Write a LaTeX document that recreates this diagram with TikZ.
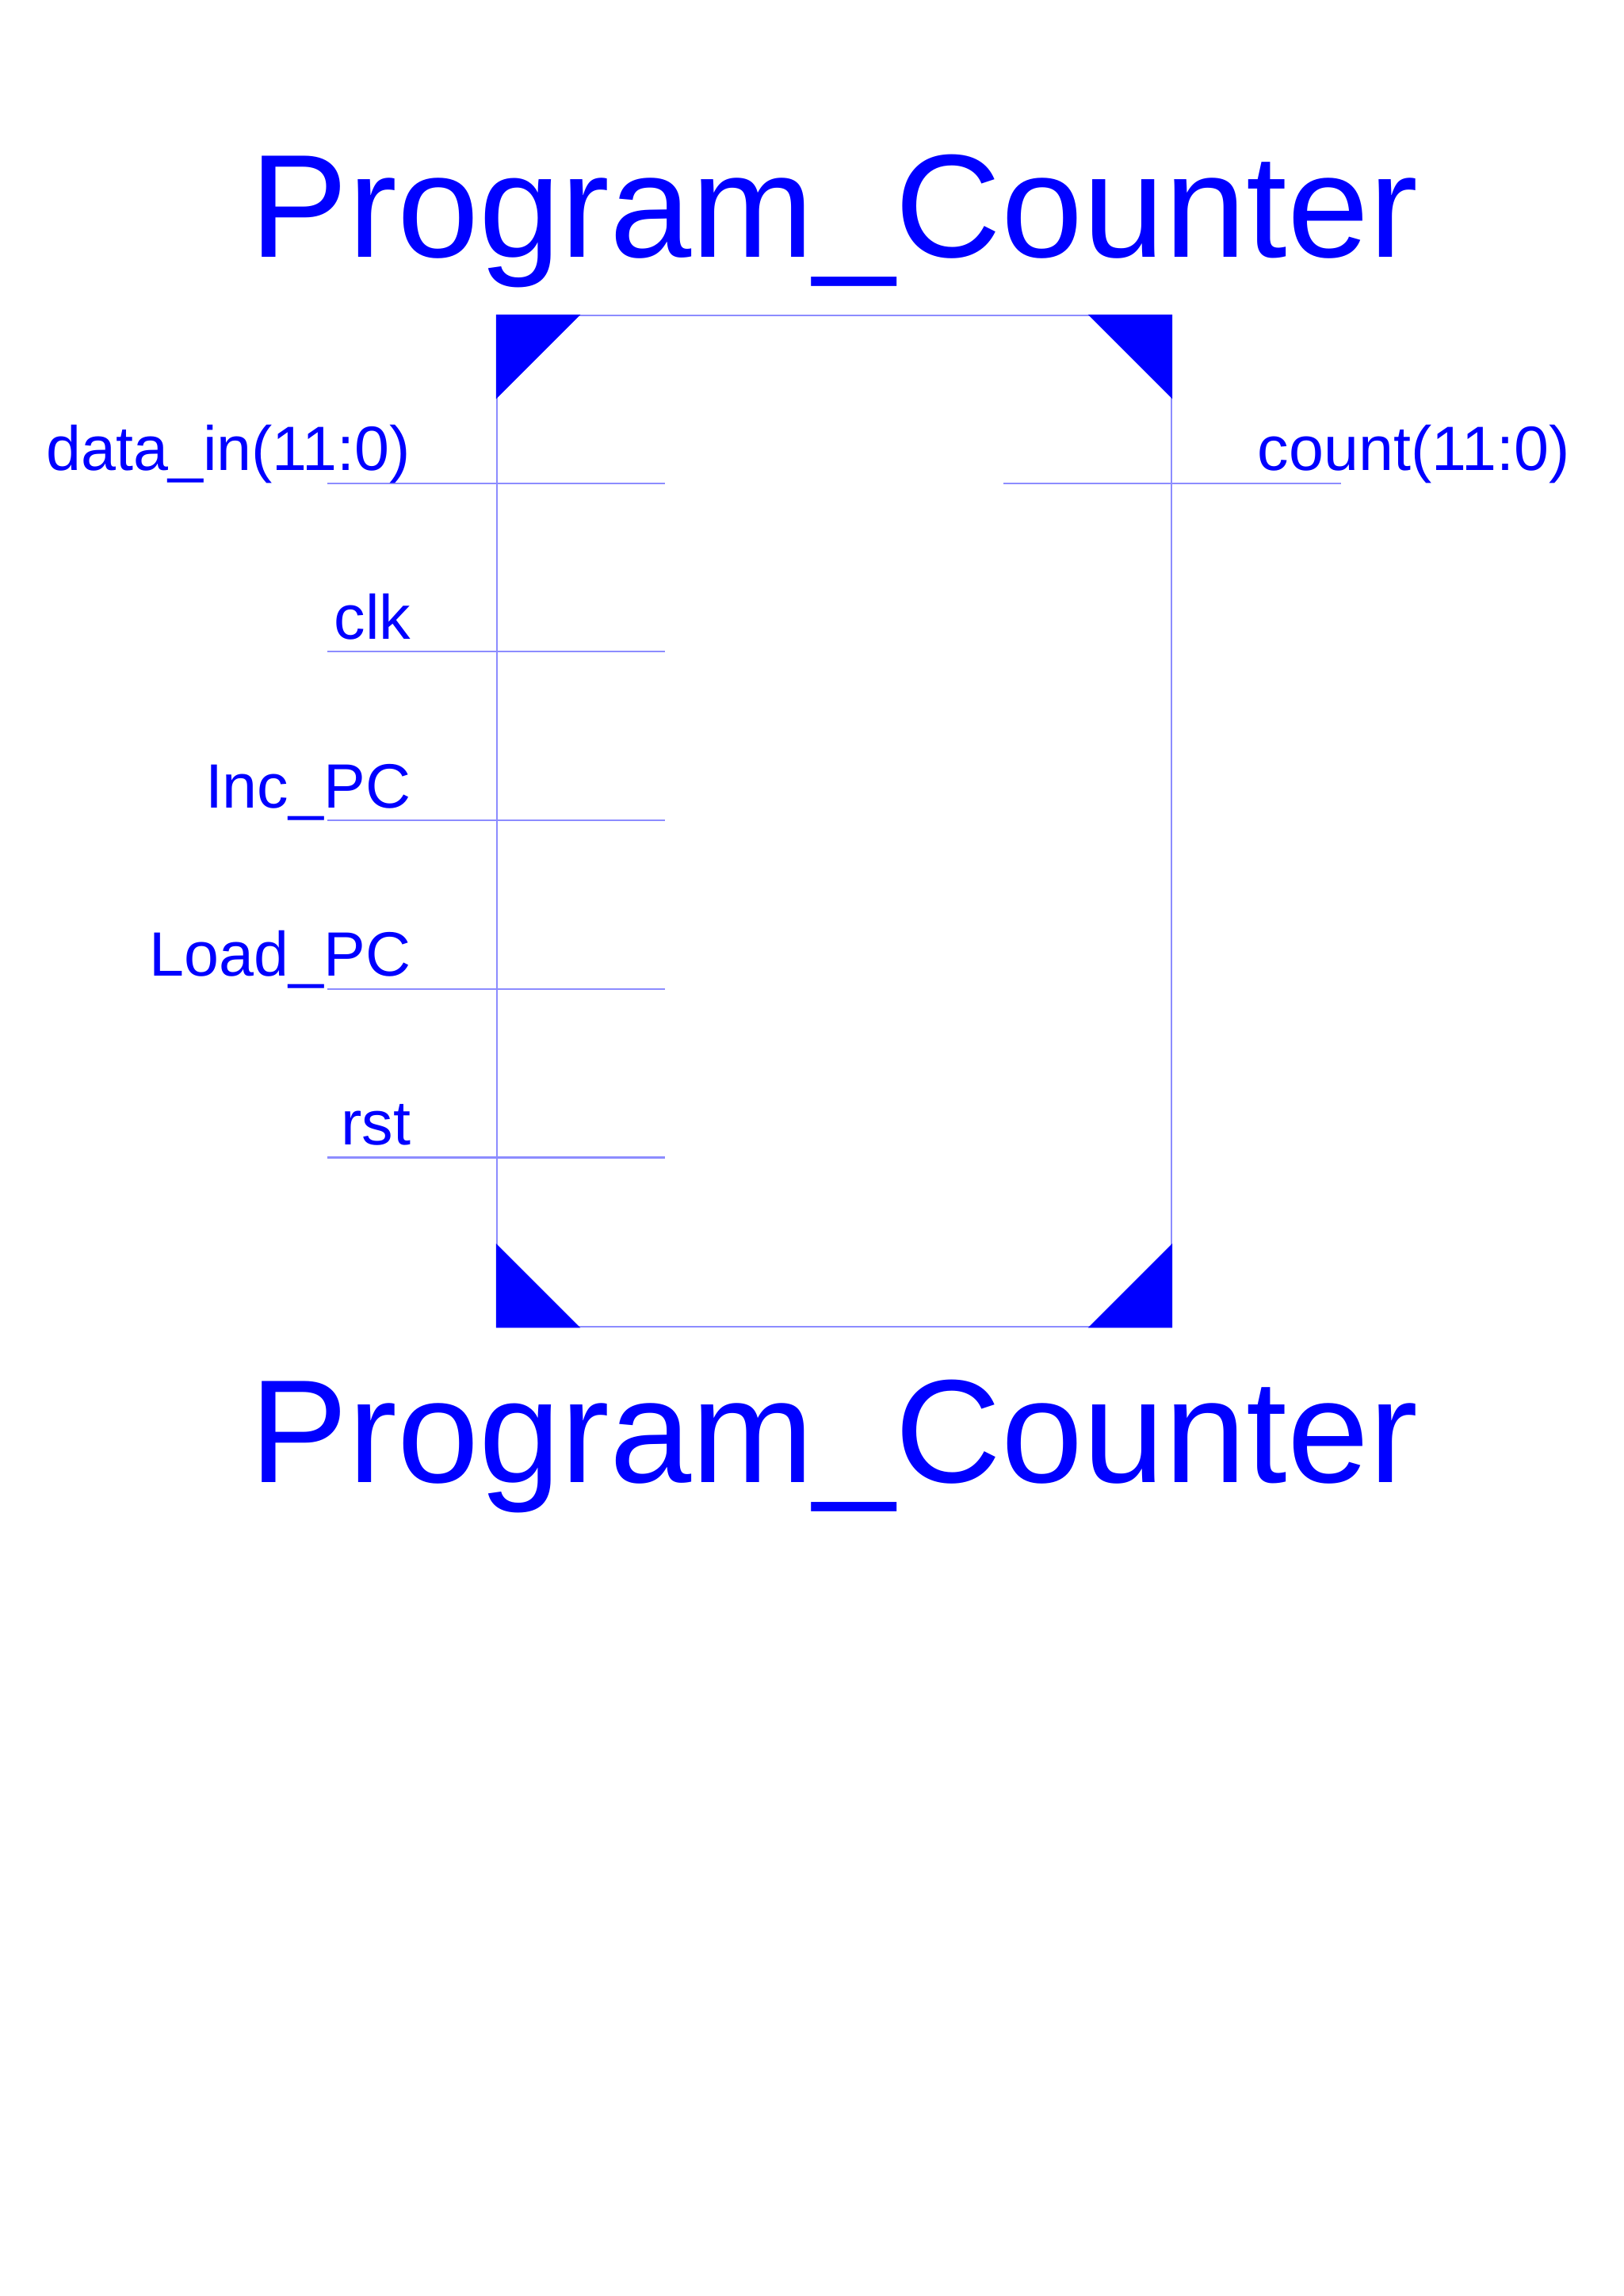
\documentclass[tikz,border=0pt]{standalone}
\usepackage{fontspec}
\setmainfont{Liberation Sans}
\usetikzlibrary{positioning}
\definecolor{symblue}{HTML}{0000FF}
\definecolor{wireblue}{HTML}{8C8CFF}

\tikzset{
  symbox/.style={draw=wireblue, line width=0.3pt, minimum width=4cm, minimum height=6cm, inner sep=0},
  wire/.style={wireblue, line width=0.3pt},
  pinlabel/.style={symblue, inner sep=0, font=\fontsize{10.57}{13}\selectfont},
  symtitle/.style={symblue, inner sep=0, anchor=base, font=\fontsize{24.8}{30}\selectfont}
}

\begin{document}
\begin{tikzpicture}
  \useasboundingbox (0,0) rectangle (9.6286,-13.62);
  \node[symbox, anchor=north west] (pc) at (2.943,-1.866) {};
  % corner marks
  \fill[symblue] (pc.north west) -- ++(0.5,0) -- ++(-0.5,-0.5) -- cycle;
  \fill[symblue] (pc.north east) -- ++(-0.5,0) -- ++(0.5,-0.5) -- cycle;
  \fill[symblue] (pc.south west) -- ++(0.5,0) -- ++(-0.5,0.5) -- cycle;
  \fill[symblue] (pc.south east) -- ++(-0.5,0) -- ++(0.5,0.5) -- cycle;
  % inputs
  \foreach \name [count=\i] in {data\_in(11:0), clk, Inc\_PC, Load\_PC, rst}
  { \coordinate (in\i) at ([yshift=-\i cm]pc.north west);
    \draw[wire] ([xshift=-1cm]in\i) -- ([xshift=1cm]in\i);
    \node[pinlabel, anchor=base east] (inlbl\i) at ([xshift=-0.5cm,yshift=0.075cm]in\i) {\name};}
  % output
  \coordinate (out1) at ([yshift=-1cm]pc.north east);
  \draw[wire] ([xshift=-1cm]out1) -- ([xshift=1cm]out1);
  \node[pinlabel, anchor=base west] (outlbl1) at ([xshift=0.5cm,yshift=0.075cm]out1) {count(11:0)};
  % names
  \node[symtitle] (nametop) at ([yshift=0.341cm]pc.north) {Program\_Counter};
  \node[symtitle] (namebot) at ([yshift=-0.918cm]pc.south) {Program\_Counter};
\end{tikzpicture}
\end{document}
